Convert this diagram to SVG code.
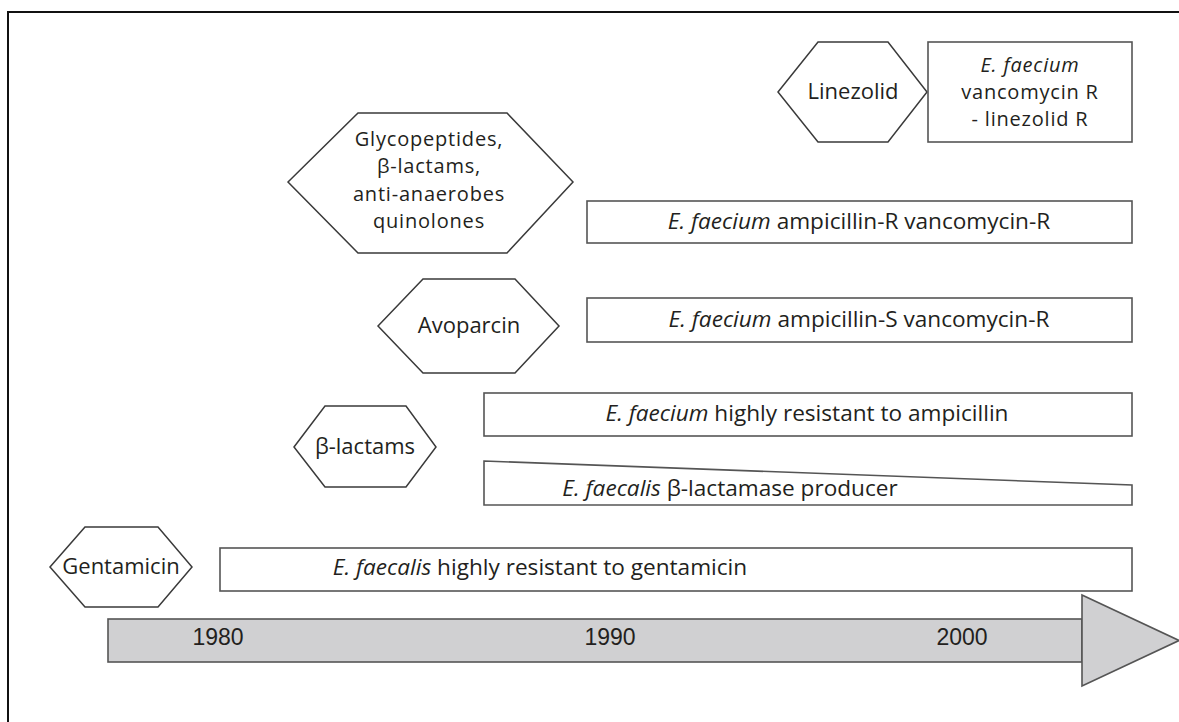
<svg xmlns="http://www.w3.org/2000/svg" width="1179" height="722" viewBox="0 0 1179 722">
<style>
.hex{fill:#fff;stroke:#3a3a3a;stroke-width:1.5}
.box{fill:#fff;stroke:#555;stroke-width:1.6}
.t{font-family:"Open Sans","Noto Sans",sans-serif;font-size:22px;fill:#231f20;text-anchor:middle}
.l{font-size:22.6px}
.m{font-size:20px;letter-spacing:0.8px}
.i{font-style:italic}
.yr{font-family:"Liberation Sans",Arial,sans-serif;font-size:23px;fill:#231f20;text-anchor:middle}
.axis{fill:#d0d0d2;stroke:#555;stroke-width:1.6}
</style>
<rect width="1179" height="722" fill="#fff"/>
<path d="M8,723 V12 H1180" fill="none" stroke="#111" stroke-width="2"/>

<g id="timeline">
<rect class="axis" x="108" y="619" width="974" height="43"/>
<polygon class="axis" points="1082,595 1179,640.5 1082,686"/>
<text class="yr" x="218" y="645">1980</text>
<text class="yr" x="610" y="645">1990</text>
<text class="yr" x="962" y="645">2000</text>
</g>

<g id="linezolid">
<polygon class="hex" points="778,92 818,42 888,42 927,92 888,142 818,142"/>
<text class="t" x="853" y="99">Linezolid</text>
</g>
<g id="efaecium-vanR-linR">
<rect class="box" x="928" y="42" width="204" height="100"/>
<text class="t m" x="1030" y="71.5"><tspan class="i">E. faecium</tspan></text>
<text class="t m" x="1030" y="98.8">vancomycin R</text>
<text class="t m" x="1030" y="126.1">- linezolid R</text>
</g>

<g id="glycopeptides">
<polygon class="hex" points="288,182 358,113 507,113 573,182 507,253 358,253"/>
<text class="t m" x="429" y="146">Glycopeptides,</text>
<text class="t m" x="429" y="173.3">β-lactams,</text>
<text class="t m" x="429" y="200.6">anti-anaerobes</text>
<text class="t m" x="429" y="227.9">quinolones</text>
</g>
<g id="efaecium-ampR-vanR">
<rect class="box" x="587" y="201" width="545" height="42"/>
<text class="t l" x="859" y="229"><tspan class="i">E. faecium</tspan> ampicillin-R vancomycin-R</text>
</g>

<g id="avoparcin">
<polygon class="hex" points="378,326 423,279 515,279 559,326 515,373 423,373"/>
<text class="t" x="469" y="333">Avoparcin</text>
</g>
<g id="efaecium-ampS-vanR">
<rect class="box" x="587" y="298" width="545" height="44"/>
<text class="t l" x="859" y="327"><tspan class="i">E. faecium</tspan> ampicillin-S vancomycin-R</text>
</g>

<g id="betalactams">
<polygon class="hex" points="294,447 325,406 406,406 436,447 406,487 325,487"/>
<text class="t" x="365" y="454">β-lactams</text>
</g>
<g id="efaecium-ampicillin">
<rect class="box" x="484" y="393" width="648" height="43"/>
<text class="t l" x="807" y="421"><tspan class="i">E. faecium</tspan> highly resistant to ampicillin</text>
</g>
<g id="efaecalis-betalactamase">
<polygon class="box" points="484,461 1132,485 1132,505 484,505"/>
<text class="t l" x="730" y="496"><tspan class="i">E. faecalis</tspan> β-lactamase producer</text>
</g>

<g id="gentamicin">
<polygon class="hex" points="50,567 85,527 158,527 192,567 158,607 85,607"/>
<text class="t" x="121" y="574">Gentamicin</text>
</g>
<g id="efaecalis-gentamicin">
<rect class="box" x="220" y="548" width="912" height="43"/>
<text class="t l" x="540" y="575"><tspan class="i">E. faecalis</tspan> highly resistant to gentamicin</text>
</g>

<g id="connectors"></g>
</svg>
